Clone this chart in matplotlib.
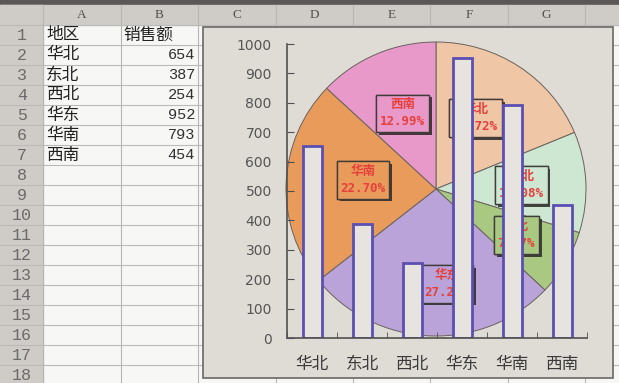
import matplotlib
matplotlib.use("Agg")
import matplotlib.pyplot as plt
import matplotlib.patheffects as pe
from matplotlib.patches import Rectangle
import numpy as np

plt.rcParams['font.family'] = ['Noto Sans CJK SC', 'DejaVu Sans']

# data
regions = ['华北', '东北', '西北', '华东', '华南', '西南']
sales = [654, 387, 254, 952, 793, 454]
header = ['地区', '销售额']
col_letters = ['A', 'B', 'C', 'D', 'E', 'F', 'G']
n_rows = 18
pie_colors = ['#efc6a6', '#cde7d3', '#a9c983', '#b9a3d9', '#e99b5b', '#e899c9']
yticks = list(range(0, 1001, 100))

W, H = 619, 383
fig = plt.figure(figsize=(W / 100, H / 100), dpi=100)

# ---- spreadsheet background (pixel coords) ----
bg = fig.add_axes([0, 0, 1, 1])
bg.set_xlim(0, W)
bg.set_ylim(H, 0)
bg.axis('off')
bg.add_patch(Rectangle((0, 0), W, H, color='#f7f7f5', zorder=0))
bg.add_patch(Rectangle((0, 0), W, 5, color='#5a5856', zorder=1))
bg.add_patch(Rectangle((0, 5), W, 20, color='#cfccc8', zorder=1))
bg.add_patch(Rectangle((0, 5), 43, H, color='#cfccc8', zorder=1))

col_x = [43, 121, 198, 276, 353, 430, 508, 585]
for x in col_x:
    bg.plot([x, x], [5, H], color='#b8b6b2', lw=0.8, zorder=2)
row_y = [25 + 20 * i for i in range(n_rows + 1)]
for y in row_y:
    bg.plot([0, W], [y, y], color='#bcbab6', lw=0.8, zorder=2)
for i, c in enumerate(col_letters):
    bg.text((col_x[i] + col_x[i + 1]) / 2, 15, c, ha='center', va='center',
            fontsize=9.5, family='Liberation Serif', color='#505050', zorder=3)
for r in range(n_rows):
    bg.text(22, 35 + 20 * r, str(r + 1), ha='center', va='center',
            fontsize=12, family='Liberation Mono', color='#6a6a6a', zorder=3)

bg.text(46, 35, header[0], ha='left', va='center', fontsize=12, color='#202020', zorder=3)
bg.text(123, 35, header[1], ha='left', va='center', fontsize=12, color='#202020', zorder=3)
for i, (rg, v) in enumerate(zip(regions, sales)):
    y = 55 + 20 * i
    bg.text(46, y, rg, ha='left', va='center', fontsize=12, color='#202020', zorder=3)
    bg.text(195, y, str(v), ha='right', va='center', fontsize=11,
            family='Liberation Mono', color='#303030', zorder=3)

# chart area
bg.add_patch(Rectangle((203, 27), 410, 351, facecolor='#dfdbd5',
                       edgecolor='#6a6866', lw=1.2, zorder=4))

# ---- pie ----
px0, px1, py0, py1 = 286, 586, 42, 336
pax = fig.add_axes([px0 / W, 1 - py1 / H, (px1 - px0) / W, (py1 - py0) / H])
pax.set_zorder(5)
pax.patch.set_visible(False)
wedges, _ = pax.pie(sales, colors=pie_colors, startangle=90, counterclock=False,
                    wedgeprops=dict(edgecolor='#6a625c', linewidth=0.7))
pax.set_aspect('auto')
pax.set_xlim(-1, 1)
pax.set_ylim(-1, 1)
pax.axis('off')

total = sum(sales)
label_r = [0.55, 0.57, 0.62, 0.65, 0.49, 0.56]
label_shift = [5, 0, 0, 9, -5, 0]
for w, rg, v, r, sh, col in zip(wedges, regions, sales, label_r, label_shift, pie_colors):
    mid = np.deg2rad((w.theta1 + w.theta2) / 2 + sh)
    t = pax.text(r * np.cos(mid), r * np.sin(mid), '%s\n%.2f%%' % (rg, 100 * v / total),
                 ha='center', va='center', fontsize=9, fontweight='bold',
                 family=['DejaVu Sans Mono', 'Noto Sans CJK SC'],
                 color='#e5403c', linespacing=1.4,
                 bbox=dict(boxstyle='square,pad=0.3', facecolor=col,
                           edgecolor='#403c3a', lw=1.0))
    t.get_bbox_patch().set_path_effects([
        pe.withSimplePatchShadow(offset=(2, -2), shadow_rgbFace='#2a2826', alpha=0.85),
        pe.Normal()])

# ---- bars ----
ax = fig.add_axes([287 / W, (H - 338) / H, 300 / W, (338 - 44) / H])
ax.set_zorder(6)
ax.patch.set_visible(False)
x = np.arange(len(regions))
ax.bar(x, sales, width=0.38, color='#e7e3df', edgecolor='#5b4fb2', linewidth=2.0)
ax.set_xlim(-0.5, len(regions) - 0.5)
ax.set_ylim(0, 1000)
ax.set_yticks(yticks)
ax.set_yticklabels([str(t) for t in yticks], family='DejaVu Sans', fontsize=10, color='#555555')
ax.set_xticks(x)
ax.set_xticklabels(regions, fontsize=12, color='#3a3a3a')
ax.set_xticks(np.arange(-0.5, len(regions)), minor=True)
ax.tick_params(axis='y', direction='in', length=5, pad=11, color='#505050')
ax.tick_params(axis='x', which='major', length=0, pad=13)
ax.tick_params(axis='x', which='minor', direction='in', length=4, color='#505050')
for s in ['top', 'right']:
    ax.spines[s].set_visible(False)
for s in ['left', 'bottom']:
    ax.spines[s].set_color('#505050')
    ax.spines[s].set_linewidth(1.2)

fig.savefig('out.png', dpi=100)
